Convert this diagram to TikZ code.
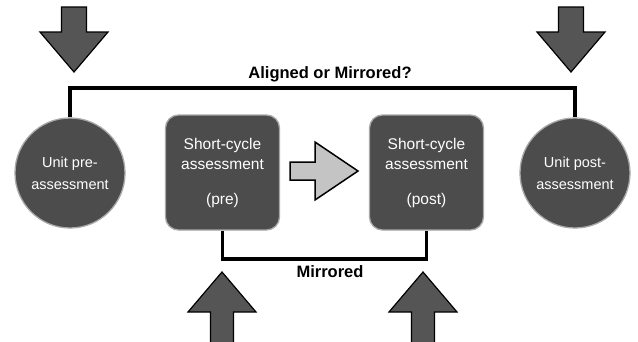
\documentclass[tikz,border=0pt]{standalone}
\usepackage{fontspec}
\setmainfont{Liberation Sans}
\usepackage{tikz}
\usetikzlibrary{positioning, calc}

\definecolor{blobgray}{HTML}{4C4C4C}
\definecolor{rimgray}{HTML}{A8A8A8}
\definecolor{arrowgray}{HTML}{555555}
\definecolor{lightarrow}{HTML}{C4C4C4}

\tikzset{
    unit/.style={circle, draw=rimgray, line width=1.3pt, fill=blobgray, minimum size=110pt,
        inner sep=0pt, text=white, align=center, font=\fontsize{14.5}{22}\selectfont},
    cyclebox/.style={rounded corners=13pt, draw=rimgray, line width=1.3pt, fill=blobgray,
        minimum width=114pt, minimum height=115pt, inner sep=0pt, text=white, align=center,
        font=\fontsize{15.5}{20}\selectfont},
    link/.style={line width=3.5pt, black},
    heavyarrow/.style={draw=black, line width=1.2pt, fill=arrowgray, line join=miter},
    lightblock/.style={draw=black, line width=1.5pt, fill=lightarrow, line join=miter},
    caption/.style={font=\bfseries\fontsize{16.5}{20}\selectfont}
}

\begin{document}
\begin{tikzpicture}[x=1pt, y=-1pt]
    \useasboundingbox (0,0) rectangle (638,341);

    % units and short cycles
    \node[unit] (unitpre) at (70,173) {Unit pre-\\assessment};
    \node[unit] (unitpost) at (575,173) {Unit post-\\assessment};
    \node[cyclebox] (scpre) at (222.5,172.5) {Short-cycle\\assessment\\[15pt](pre)};
    \node[cyclebox] (scpost) at (426.5,172.5) {Short-cycle\\assessment\\[15pt](post)};

    % brackets
    \coordinate (topbar) at (330,88);
    \coordinate (botbar) at (330,259);
    \draw[link] (unitpre.north) |- (topbar) -| (unitpost.north);
    \draw[link] (scpre.south) |- (botbar) -| (scpost.south);
    \node[caption] (aligned) at (330,74) {Aligned or Mirrored?};
    \node[caption] (mirrored) at (330,272) {Mirrored};

    % big block arrows
    \draw[heavyarrow, shift={(74,7)}] (-12.5,0) -- (12.5,0) -- (12.5,25) -- (34,25) -- (0,65) -- (-34,25) -- (-12.5,25) -- cycle;
    \draw[heavyarrow, shift={(571,7)}] (-12.5,0) -- (12.5,0) -- (12.5,25) -- (34,25) -- (0,65) -- (-34,25) -- (-12.5,25) -- cycle;
    \draw[heavyarrow, shift={(222,345)}] (-11.5,0) -- (11.5,0) -- (11.5,-33) -- (34,-33) -- (0,-73) -- (-34,-33) -- (-11.5,-33) -- cycle;
    \draw[heavyarrow, shift={(423,345)}] (-11.5,0) -- (11.5,0) -- (11.5,-33) -- (34,-33) -- (0,-73) -- (-34,-33) -- (-11.5,-33) -- cycle;
    \draw[lightblock] (290,162) -- (315,162) -- (315,142) -- (358,171) -- (315,200) -- (315,180) -- (290,180) -- cycle;
\end{tikzpicture}
\end{document}
